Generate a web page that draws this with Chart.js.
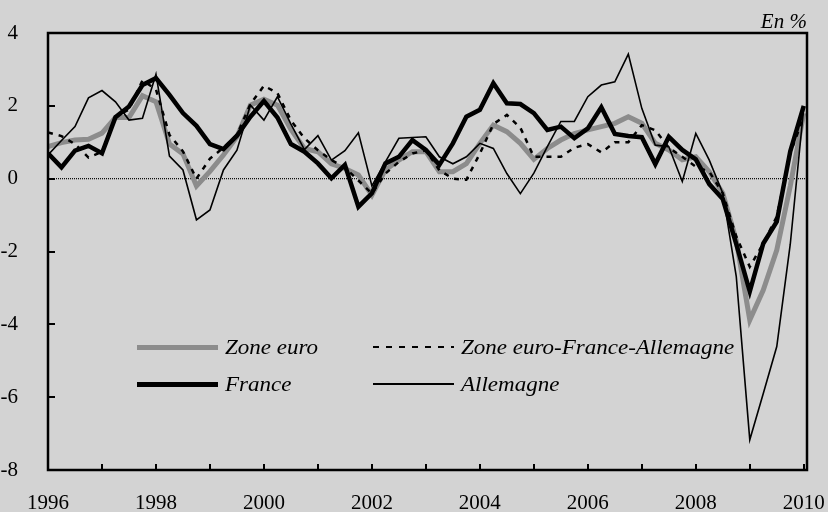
<!DOCTYPE html>
<html>
<head>
<meta charset="utf-8">
<script src="https://cdn.jsdelivr.net/npm/chart.js@4/dist/chart.umd.min.js"></script>
<style>
  html, body { margin: 0; padding: 0; background: #d3d3d3; }
  #wrap { position: relative; width: 828px; height: 512px; background: #d3d3d3; }
  canvas { position: absolute; left: 0; top: 0; }
  .unit { position: absolute; right: 21px; top: 11px; font: italic 20px "Liberation Serif", serif; line-height: 1; transform: scaleX(1.05); transform-origin: right center; }
  .leg { position: absolute; font: italic 20px "Liberation Serif", serif; line-height: 1; display: flex; align-items: center; }
  .leg span { display: inline-block; transform: scaleX(1.15); transform-origin: left center; }
  .sw { width: 81px; margin-right: 7px; }
  .sw.gray { height: 5px; background: #8c8c8c; }
  .sw.black { height: 5px; background: #000; }
  .sw.dash { height: 2.5px; background: repeating-linear-gradient(to right, #000 0 6px, transparent 6px 13px); }
  .sw.thin { height: 1.5px; background: #000; }
</style>
</head>
<body>
<div id="wrap">
  <canvas id="chart" width="828" height="512"></canvas>
  <div class="unit">En %</div>
  <div class="leg" style="left:137px; top:337px;"><div class="sw gray"></div><span>Zone euro</span></div>
  <div class="leg" style="left:373px; top:337px;"><div class="sw dash"></div><span>Zone euro-France-Allemagne</span></div>
  <div class="leg" style="left:137px; top:374px;"><div class="sw black"></div><span>France</span></div>
  <div class="leg" style="left:373px; top:374px;"><div class="sw thin"></div><span>Allemagne</span></div>
</div>
<script>
// quarterly points, 1996T1 .. 2010T1
const quarters = [];
for (let y = 1996; y <= 2010; y++) {
    for (let q = 1; q <= 4; q++) {
        if (y === 2010 && q > 1) break;
        quarters.push(y + 'T' + q);
    }
}
const xPos = quarters.map(l => Number(l.slice(0, 4)) + (Number(l.slice(5)) - 1) / 4);

const labelYears = [1996, 1998, 2000, 2002, 2004, 2006, 2008, 2010];
const tickYears = [1997, 1998, 1999, 2000, 2001, 2002, 2003, 2004, 2005, 2006, 2007, 2008, 2009, 2010];
const yTicks = [-8, -6, -4, -2, 0, 2, 4];

const zoneEuro = [0.88, 0.99, 1.06, 1.08, 1.25, 1.68, 1.68, 2.28, 2.11, 0.95, 0.68, -0.2, 0.2, 0.65, 1.15, 2.02, 2.18, 2.02, 1.35,
    0.83, 0.74, 0.41, 0.28, 0.10, -0.45, 0.24, 0.51, 0.74, 0.74, 0.19, 0.19, 0.41, 0.97, 1.47, 1.29, 0.97, 0.53,
    0.83, 1.06, 1.24, 1.34, 1.43, 1.52, 1.70, 1.52, 0.97, 0.79, 0.52, 0.60, 0.19, -0.40, -1.7, -3.88, -3.06, -1.96, -0.2, 1.8];
const zoneEFA = [1.27, 1.17, 0.95, 0.58, 0.74, 1.70, 1.90, 2.70, 2.45, 1.20, 0.75, 0.0, 0.55, 0.85, 1.20, 2.05, 2.55, 2.35, 1.60,
    1.11, 0.78, 0.51, 0.30, -0.05, -0.41, 0.14, 0.46, 0.69, 0.78, 0.23, 0.0, -0.03, 0.69, 1.5, 1.75, 1.4, 0.6,
    0.6, 0.6, 0.85, 0.95, 0.72, 1.0, 1.0, 1.47, 1.33, 0.85, 0.6, 0.33, 0.19, -0.4, -1.59, -2.42, -1.78, -1.04, 0.7, 1.7];
const france = [0.70, 0.31, 0.77, 0.90, 0.70, 1.69, 1.98, 2.57, 2.76, 2.3, 1.8, 1.45, 0.95, 0.81, 1.18, 1.7, 2.13, 1.68, 0.95,
    0.74, 0.42, 0.01, 0.38, -0.77, -0.40, 0.42, 0.60, 1.06, 0.79, 0.38, 0.97, 1.70, 1.89, 2.62, 2.07, 2.05, 1.80,
    1.34, 1.43, 1.11, 1.38, 1.96, 1.23, 1.17, 1.14, 0.40, 1.15, 0.79, 0.53, -0.15, -0.56, -1.8, -3.10, -1.78, -1.18, 0.75, 2.0];
const allemagne = [0.65, 1.05, 1.43, 2.22, 2.42, 2.11, 1.61, 1.66, 2.87, 0.62, 0.24, -1.13, -0.86, 0.24, 0.78, 2.02, 1.61, 2.25, 1.5,
    0.8, 1.18, 0.51, 0.77, 1.26, -0.2, 0.46, 1.11, 1.13, 1.15, 0.6, 0.41, 0.6, 0.97, 0.83, 0.14, -0.41, 0.15,
    0.88, 1.57, 1.57, 2.25, 2.57, 2.66, 3.42, 1.93, 0.92, 0.88, -0.08, 1.24, 0.51, -0.40, -2.69, -7.17, -5.9, -4.61, -1.8, 1.95];

function pts(arr) {
    return arr.map((v, i) => ({ x: xPos[i], y: v }));
}

const framePlugin = {
    id: 'frame',
    beforeDatasetsDraw(chart) {
        const { ctx, chartArea: a, scales: { y } } = chart;
        const y0 = y.getPixelForValue(0);
        ctx.save();
        ctx.strokeStyle = '#000';
        ctx.lineWidth = 1.2;
        ctx.setLineDash([1, 1]);
        ctx.beginPath();
        ctx.moveTo(a.left, y0);
        ctx.lineTo(a.right, y0);
        ctx.stroke();
        ctx.restore();
    },
    afterDatasetsDraw(chart) {
        const { ctx, chartArea: a, scales: { x, y } } = chart;
        ctx.save();
        ctx.strokeStyle = '#000';
        ctx.lineWidth = 2.5;
        ctx.strokeRect(a.left, a.top, a.right - a.left, a.bottom - a.top);
        ctx.lineWidth = 2;
        ctx.beginPath();
        tickYears.forEach(v => {
            const px = Math.round(x.getPixelForValue(v));
            ctx.moveTo(px, a.bottom);
            ctx.lineTo(px, a.bottom - 6);
        });
        yTicks.forEach(v => {
            const py = Math.round(y.getPixelForValue(v));
            ctx.moveTo(a.left, py);
            ctx.lineTo(a.left + 7, py);
        });
        ctx.stroke();
        ctx.restore();
    }
};

const tickFont = { family: 'Liberation Serif', size: 21 };

new Chart(document.getElementById('chart'), {
    type: 'line',
    data: {
        datasets: [
            { label: 'Zone euro', data: pts(zoneEuro), borderColor: '#8c8c8c', borderWidth: 5, order: 4 },
            { label: 'Zone euro-France-Allemagne', data: pts(zoneEFA), borderColor: '#000', borderWidth: 2.5, borderDash: [5, 6], order: 3 },
            { label: 'France', data: pts(france), borderColor: '#000', borderWidth: 4.5, order: 2 },
            { label: 'Allemagne', data: pts(allemagne), borderColor: '#000', borderWidth: 1.6, order: 1 }
        ]
    },
    options: {
        responsive: false,
        animation: false,
        devicePixelRatio: 1,
        layout: { padding: { top: 33, right: 21, left: 0, bottom: 0 } },
        elements: { point: { radius: 0 }, line: { tension: 0, borderJoinStyle: 'miter' } },
        plugins: { legend: { display: false }, tooltip: { enabled: false } },
        scales: {
            x: {
                type: 'linear',
                min: 1996,
                max: 2010.06,
                afterFit: s => { s.height = 42; s.paddingLeft = 0; s.paddingRight = 0; },
                afterBuildTicks: s => { s.ticks = labelYears.map(v => ({ value: v })); },
                grid: { display: false },
                border: { display: false },
                ticks: { font: tickFont, color: '#000', padding: 13, maxRotation: 0, autoSkip: false, callback: v => String(v) }
            },
            y: {
                min: -8,
                max: 4,
                afterFit: s => { s.width = 48; s.paddingTop = 0; s.paddingBottom = 0; },
                afterBuildTicks: s => { s.ticks = yTicks.map(v => ({ value: v })); },
                grid: { display: false },
                border: { display: false },
                ticks: { font: tickFont, color: '#000', padding: 22, callback: v => String(v) }
            }
        }
    },
    plugins: [framePlugin]
});
</script>
</body>
</html>
